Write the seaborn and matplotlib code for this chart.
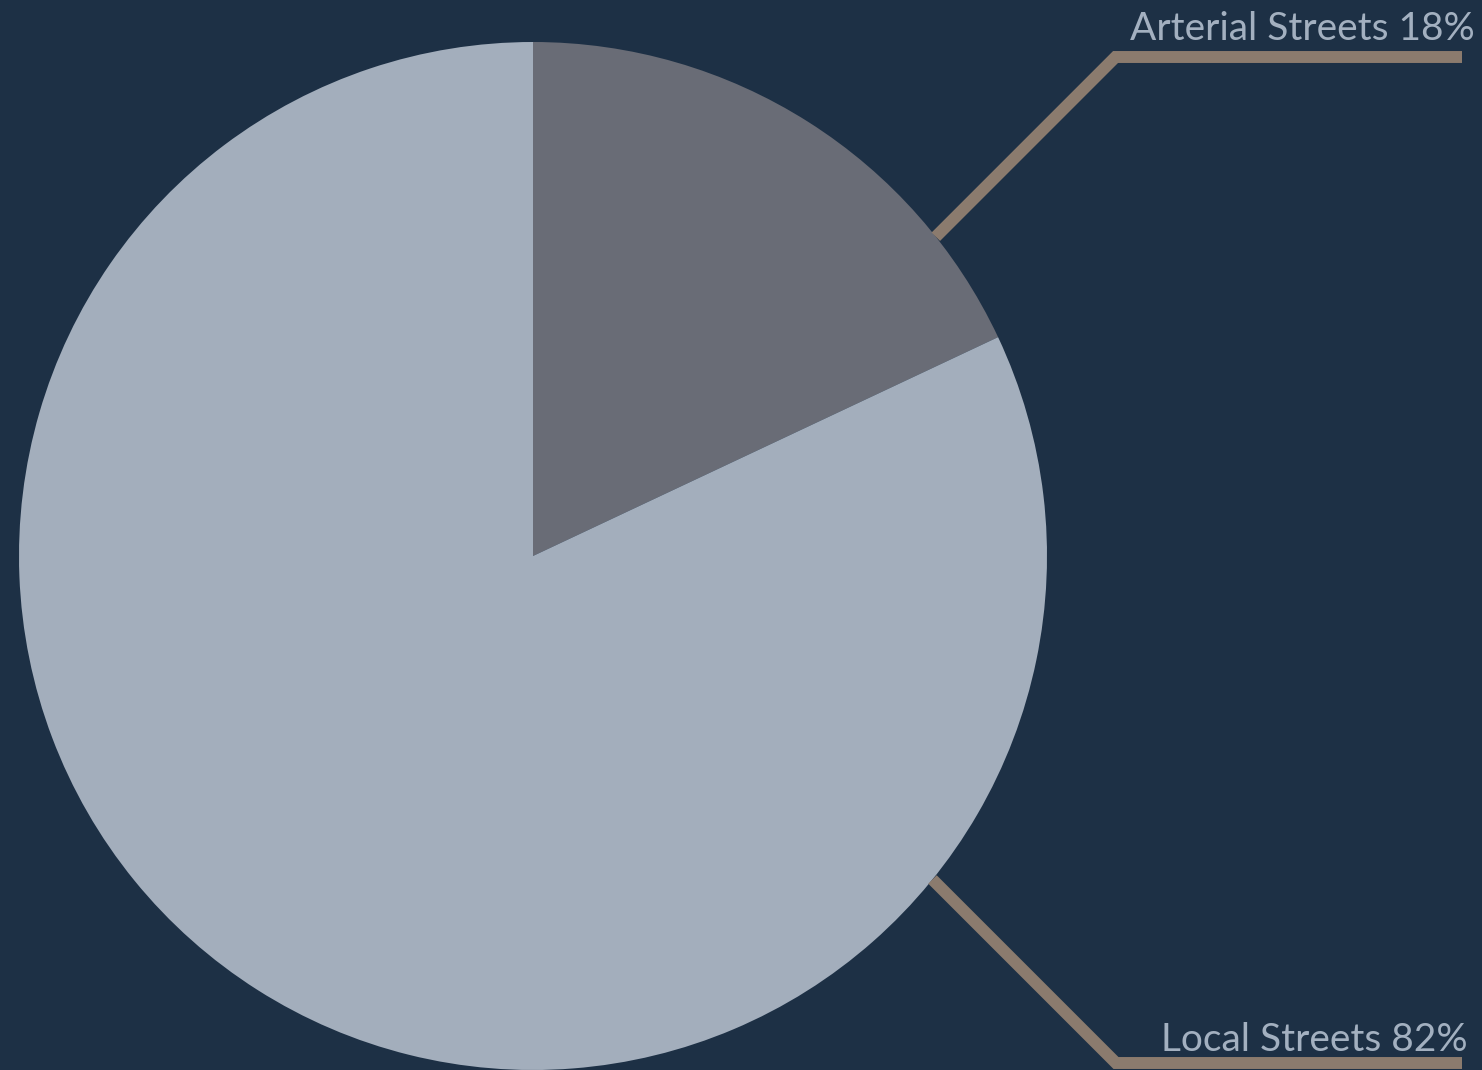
import numpy as np
import matplotlib
matplotlib.use("Agg")
import matplotlib.pyplot as plt
import seaborn as sns

# Road network share by street class
categories = ["Arterial Streets", "Local Streets"]
shares = [18, 82]
labels = ["Arterial Streets 18%", "Local Streets 82%"]

BG = "#1d3045"
slice_colors = ["#696c76", "#a3aebc"]
LEADER = "#8b7b6e"
TEXT = "#a3b0c0"

sns.set_theme(style="white")
plt.rcParams["font.family"] = ["Lato", "DejaVu Sans"]

W, H = 1482, 1070
fig = plt.figure(figsize=(W / 100, H / 100), dpi=100, facecolor=BG)
ax = fig.add_axes([0, 0, 1, 1])
ax.set_facecolor(BG)

cx, cy, r = 533, H - 556, 514
ax.pie(shares, colors=slice_colors, startangle=90, counterclock=False,
       center=(cx, cy), radius=r, wedgeprops=dict(linewidth=0))

ax.set_xlim(0, W)
ax.set_ylim(0, H)
ax.set_aspect("equal")
ax.axis("off")

# Leader lines: start on the rim, rise at 45 degrees to an elbow, then run right
anchor_angles = [38.4, -39.0]
elbow_y = [H - 57, H - 1063]
line_end_x = 1462
text_pos = [(1475, H - 40), (1468, H - 1051)]

for ang, ey, lab, (tx, ty) in zip(anchor_angles, elbow_y, labels, text_pos):
    a = np.deg2rad(ang)
    sx, sy = cx + r * np.cos(a), cy + r * np.sin(a)
    ex = sx + abs(ey - sy)
    ax.plot([sx, ex, line_end_x], [sy, ey, ey], color=LEADER, lw=8.6,
            solid_capstyle="butt", solid_joinstyle="miter", clip_on=False)
    ax.text(tx, ty, lab, color=TEXT, fontsize=28, ha="right", va="baseline")

fig.savefig("out.png", dpi=100, facecolor=BG)
